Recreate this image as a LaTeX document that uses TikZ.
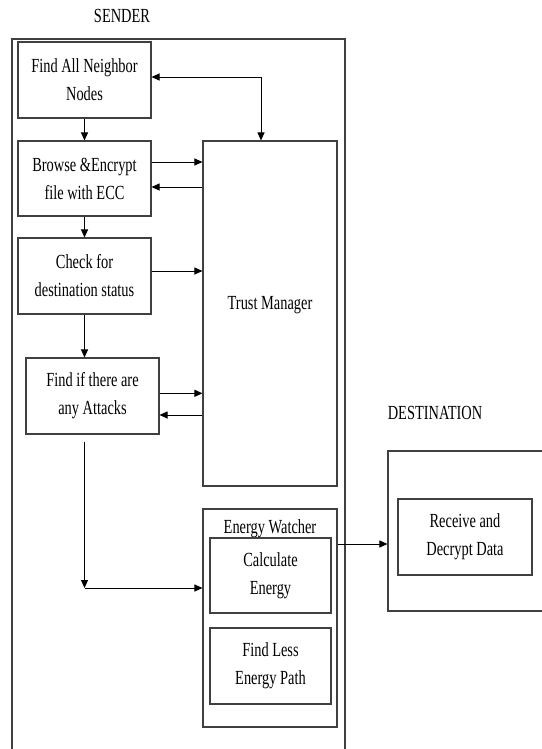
\documentclass[tikz,border=0pt]{standalone}
\usepackage{fontspec}
\setmainfont{Liberation Serif}[FakeStretch=0.72]
\usetikzlibrary{arrows.meta}

\begin{document}
\begin{tikzpicture}[x=1bp,y=-1bp,block/.style={draw=black!75,line width=1.1bp,minimum width=133bp,minimum height=76bp,inner sep=0pt,align=center,font=\fontsize{20bp}{28bp}\selectfont},frame/.style={draw=black!75,line width=1.1bp,inner sep=0pt},heading/.style={font=\fontsize{20bp}{28bp}\selectfont,inner sep=0pt},flow/.style={line width=1bp,-{Triangle[length=8bp,width=7bp]}},twoway/.style={line width=1bp,{Triangle[length=8bp,width=7bp]}-{Triangle[length=8bp,width=7bp]}}]
\useasboundingbox (0,0) rectangle (542,749);
% sender side
\node[heading] (sendlbl) at (122,16) {SENDER};
\draw[frame] (12,749) -- (12,39) -- (345,39) -- (345,749);
\node[block] (nbr) at (84.5,80) {Find All Neighbor\\Nodes};
\node[block,minimum height=75bp] (enc) at (84.5,178.5) {Browse \&Encrypt\\file with ECC};
\node[block] (chk) at (84.5,276) {Check for\\destination status};
\node[block] (atk) at (92.5,396) {Find if there are\\any Attacks};
\node[block,minimum width=134bp,minimum height=345bp] (trust) at (270,313.5) {};
\node[heading] (trustlbl) at (270,305) {Trust Manager};
\node[block,minimum width=134bp,minimum height=218bp] (energy) at (270,618) {};
\node[heading] (energylbl) at (270,529) {Energy Watcher};
\node[block,minimum width=121bp,minimum height=75bp] (calc) at (270.5,575.5) {Calculate\\Energy};
\node[block,minimum width=121bp,minimum height=76bp] (less) at (270.5,666) {Find Less\\Energy Path};
% destination side
\node[heading] (destlbl) at (435,413) {DESTINATION};
\node[frame,minimum width=160bp,minimum height=160bp] (dest) at (468,531) {};
\node[block,minimum width=134bp,minimum height=76bp] (recv) at (465,537) {Receive and\\Decrypt Data};
% connectors
\draw[flow] (nbr) -- (enc);
\draw[flow] (enc) -- (chk);
\draw[flow] (chk.south) -- (chk.south |- atk.north);
\draw[twoway] ([yshift=3bp]nbr.east) -| ([xshift=-9bp]trust.north);
\coordinate (e1) at ([yshift=16.5bp]enc.east);
\coordinate (e2) at ([yshift=-8.5bp]enc.east);
\draw[flow] (e1) -- (e1 -| trust.west);
\draw[flow] (e2 -| trust.west) -- (e2);
\coordinate (c1) at ([yshift=5bp]chk.east);
\draw[flow] (c1) -- (c1 -| trust.west);
\coordinate (a1) at ([yshift=2.7bp]atk.east);
\coordinate (a2) at ([yshift=-19bp]atk.east);
\draw[flow] (a1) -- (a1 -| trust.west);
\draw[flow] (a2 -| trust.west) -- (a2);
\coordinate (turn) at (84.5,588);
\draw[flow] ([yshift=-7bp]atk.south -| turn) -- (turn);
\draw[flow] (turn) -- (turn -| energy.west);
\coordinate (out) at ([yshift=74bp]energy.east);
\draw[flow] (out) -- (out -| dest.west);
\end{tikzpicture}
\end{document}
